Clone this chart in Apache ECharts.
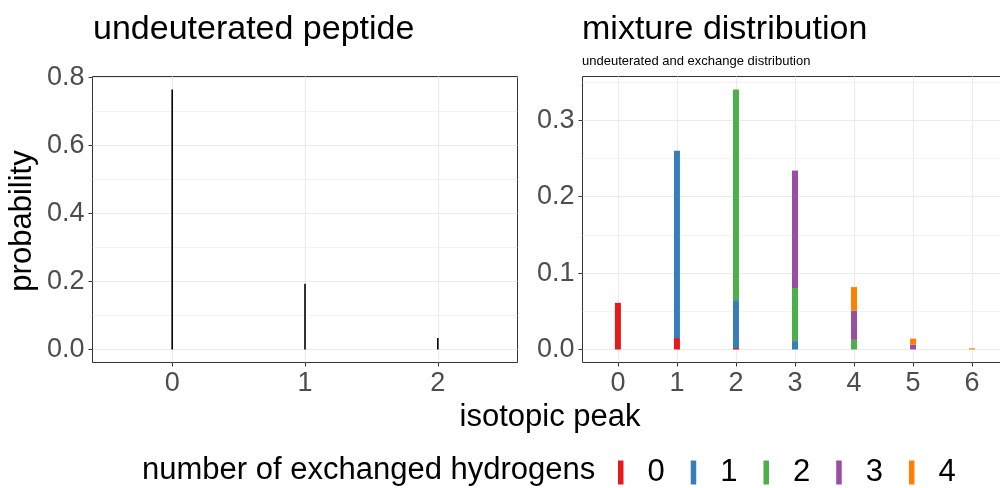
<!DOCTYPE html>
<html>
<head>
<meta charset="utf-8">
<script src="https://cdn.jsdelivr.net/npm/echarts@6/dist/echarts.min.js"></script>
<style>
html,body{margin:0;padding:0;background:#fff;}
#chart{width:1000px;height:488px;}
</style>
</head>
<body>
<div id="chart"></div>
<script>
// ---- data ----
const undeutPeaks = [0, 1, 2];
const undeutProb = [0.764, 0.193, 0.034];

const mixPeaks = [0, 1, 2, 3, 4, 5, 6];
const exchangeNames = ['0', '1', '2', '3', '4'];
const exch0 = [0.061, 0.015, 0.002, 0, 0, 0, 0];
const exch1 = [0, 0.245, 0.0625, 0.011, 0, 0, 0];
const exch2 = [0, 0, 0.2756, 0.0694, 0.0126, 0, 0];
const exch3 = [0, 0, 0, 0.1536, 0.0382, 0.0065, 0];
const exch4 = [0, 0, 0, 0, 0.0308, 0.0078, 0.0015];

const leftYTicks = [0, 0.2, 0.4, 0.6, 0.8];
const leftYMinor = [0.1, 0.3, 0.5, 0.7];
const rightYTicks = [0, 0.1, 0.2, 0.3];
const rightYMinor = [0.05, 0.15, 0.25, 0.35];
const leftXTicks = [0, 1, 2];
const rightXTicks = [0, 1, 2, 3, 4, 5, 6];

// ---- styling ----
const FONT = 'Liberation Sans, Arial, Helvetica, sans-serif';
const GRIDC = '#EBEBEB';
const colors = ['#E41A1C', '#377EB8', '#4DAF4A', '#984EA3', '#FF7F00'];
const exchSeries = [exch0, exch1, exch2, exch3, exch4];

function expand(lo, hi, f) { const d = hi - lo; return [lo - d * f, hi + d * f]; }
const leftY = expand(0, Math.max(...undeutProb), 0.05);
const mixTotals = mixPeaks.map((_, i) => exchSeries.reduce((s, a) => s + a[i], 0));
const rightY = expand(0, Math.max(...mixTotals), 0.05);

function xAxis(grid, ticks, maxv) {
  return {
    type: 'value', gridIndex: grid, min: -0.6, max: maxv + 0.6,
    axisLine: { show: false, onZero: false },
    axisTick: { show: true, length: 4, customValues: ticks, lineStyle: { color: '#333333', width: 1 } },
    axisLabel: { show: true, customValues: ticks, margin: 8, fontSize: 27, color: '#4D4D4D', fontFamily: FONT },
    splitLine: { show: true, lineStyle: { color: GRIDC, width: 1.1 } }
  };
}
function yAxisMajor(grid, ticks, range) {
  return {
    type: 'value', gridIndex: grid, min: range[0], max: range[1],
    axisLine: { show: false, onZero: false },
    axisTick: { show: true, length: 4, customValues: ticks, lineStyle: { color: '#333333', width: 1 } },
    axisLabel: { show: true, customValues: ticks, margin: 8, fontSize: 27, color: '#4D4D4D', fontFamily: FONT,
      formatter: v => v.toFixed(1) },
    splitLine: { show: true, lineStyle: { color: GRIDC, width: 1.1 } }
  };
}
function yAxisMinor(grid, ticks, range) {
  return {
    type: 'value', gridIndex: grid, min: range[0], max: range[1],
    axisLine: { show: false, onZero: false },
    axisTick: { show: false, customValues: ticks },
    axisLabel: { show: false, customValues: ticks },
    splitLine: { show: true, lineStyle: { color: GRIDC, width: 0.6 } }
  };
}

// data items are [probability, peak] so that the probability dimension is the stacked one
const series = [{
  type: 'bar', name: 'undeuterated', xAxisIndex: 0, yAxisIndex: 0,
  data: undeutPeaks.map((p, i) => [undeutProb[i], p]),
  encode: { x: 1, y: 0 },
  barWidth: 1.6, itemStyle: { color: '#000000' }, silent: true
}];
exchangeNames.forEach((n, k) => {
  series.push({
    type: 'bar', name: n, xAxisIndex: 1, yAxisIndex: 2, stack: 'mix',
    data: mixPeaks.map((p, i) => [exchSeries[k][i], p]),
    encode: { x: 1, y: 0 },
    barWidth: 6, itemStyle: { color: colors[k] }
  });
});

const chart = echarts.init(document.getElementById('chart'), null, { renderer: 'canvas' });
chart.setOption({
  animation: false,
  backgroundColor: '#ffffff',
  title: [
    { text: 'undeuterated peptide', left: 93, top: 13, padding: 0,
      textStyle: { fontSize: 34, fontWeight: 'normal', color: '#000', fontFamily: FONT } },
    { text: 'mixture distribution', left: 582, top: 13, padding: 0, itemGap: 8,
      textStyle: { fontSize: 34, fontWeight: 'normal', color: '#000', fontFamily: FONT },
      subtext: 'undeuterated and exchange distribution',
      subtextStyle: { fontSize: 13, color: '#000', fontFamily: FONT } },
    { text: 'number of exchanged hydrogens', left: 142, top: 455, padding: 0,
      textStyle: { fontSize: 31, fontWeight: 'normal', color: '#000', fontFamily: FONT } }
  ],
  legend: {
    data: exchangeNames, left: 618, top: 457, padding: 0, orient: 'horizontal',
    icon: 'rect', itemWidth: 5.5, itemHeight: 24, itemGap: 26,
    selectedMode: false,
    textStyle: { fontSize: 31, color: '#000', fontFamily: FONT, padding: [0, 0, 0, 19] }
  },
  grid: [
    { left: 92.5, top: 76.5, width: 425, height: 286, show: true, borderColor: '#333333', borderWidth: 1,
      backgroundColor: '#fff', containLabel: false, outerBoundsMode: 'none' },
    { left: 582.5, top: 76.5, width: 425, height: 286, show: true, borderColor: '#333333', borderWidth: 1,
      backgroundColor: '#fff', containLabel: false, outerBoundsMode: 'none' }
  ],
  xAxis: [xAxis(0, leftXTicks, 2), xAxis(1, rightXTicks, 6)],
  yAxis: [yAxisMajor(0, leftYTicks, leftY), yAxisMinor(0, leftYMinor, leftY),
          yAxisMajor(1, rightYTicks, rightY), yAxisMinor(1, rightYMinor, rightY)],
  graphic: [
    { type: 'text', x: 550, y: 417, style: { text: 'isotopic peak', font: '31px ' + FONT, fill: '#000',
      textAlign: 'center', textVerticalAlign: 'middle' } },
    { type: 'text', x: 22, y: 221, rotation: Math.PI / 2, style: { text: 'probability', font: '31px ' + FONT,
      fill: '#000', textAlign: 'center', textVerticalAlign: 'middle' } }
  ],
  series: series
});
</script>
</body>
</html>
